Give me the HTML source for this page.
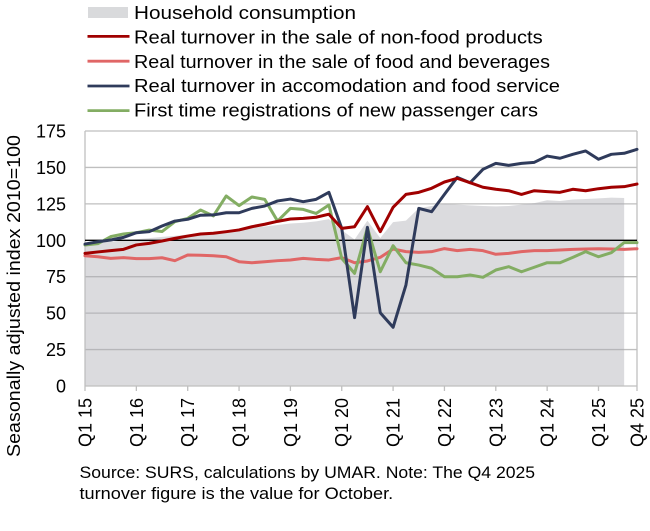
<!DOCTYPE html>
<html>
<head>
<meta charset="utf-8">
<style>
  html, body { margin: 0; padding: 0; background: #ffffff; }
  svg { display: block; }
  text { font-family: "Liberation Sans", Arial, sans-serif; fill: #000; }
</style>
</head>
<body>
<svg width="650" height="531" viewBox="0 0 650 531" xmlns="http://www.w3.org/2000/svg">
  <!-- Legend -->
  <rect x="88" y="7" width="40" height="11" fill="#d9dadc"/>
  <line x1="87.5" y1="36.4" x2="129.5" y2="36.4" stroke="#a00000" stroke-width="2.8"/>
  <line x1="87.5" y1="61.2" x2="129.5" y2="61.2" stroke="#e06666" stroke-width="2.8"/>
  <line x1="87.5" y1="86" x2="129.5" y2="86" stroke="#2f3b5b" stroke-width="2.8"/>
  <line x1="87.5" y1="110.6" x2="129.5" y2="110.6" stroke="#83ad63" stroke-width="2.8"/>
  <g font-size="18">
    <text x="134" y="19.2" textLength="222" lengthAdjust="spacingAndGlyphs">Household consumption</text>
    <text x="134" y="43.5" textLength="408.7" lengthAdjust="spacingAndGlyphs">Real turnover in the sale of non-food products</text>
    <text x="134" y="67.9" textLength="416" lengthAdjust="spacingAndGlyphs">Real turnover in the sale of food and beverages</text>
    <text x="134" y="92.2" textLength="426" lengthAdjust="spacingAndGlyphs">Real turnover in accomodation and food service</text>
    <text x="134" y="116.6" textLength="404" lengthAdjust="spacingAndGlyphs">First time registrations of new passenger cars</text>
  </g>

  <!-- Gridlines -->
  <g stroke="#bfbfbf" stroke-width="1.3">
    <line x1="85" y1="349.57" x2="637" y2="349.57"/>
    <line x1="85" y1="313.14" x2="637" y2="313.14"/>
    <line x1="85" y1="276.71" x2="637" y2="276.71"/>
    <line x1="85" y1="203.86" x2="637" y2="203.86"/>
    <line x1="85" y1="167.43" x2="637" y2="167.43"/>
    <line x1="85" y1="131" x2="637" y2="131"/>
  </g>

  <!-- Household consumption area -->
  <g transform="translate(85,386) scale(12.8372,-1.45714)">
    <polygon fill="#a9aab0" fill-opacity="0.42" points="0,0 0,98 1,98.5 2,99 3,100 4,100.7 5,101.5 6,102.3 7,103 8,104 9,105 10,105.8 11,106.6 12,107.5 13,108.5 14,109.5 15,110.5 16,111.5 17,112 18,113 19,114.5 20,107 21,100.5 22,113.5 23,101.5 24,112.5 25,113.5 26,122 27,123.5 28,125 29,124.5 30,124 31,123.5 32,123.3 33,123.5 34,124.5 35,125.5 36,127.5 37,127 38,128 39,128.3 40,128.8 41,129.3 42,129 42,0"/>
  </g>

  <g stroke="#bfbfbf" stroke-width="1.3">
    <line x1="85" y1="131" x2="85" y2="386"/>
    <line x1="637" y1="131" x2="637" y2="391"/>
    <line x1="85" y1="386" x2="637" y2="386"/>
    <!-- ticks -->
    <line x1="85" y1="386" x2="85" y2="391"/>
    <line x1="136.35" y1="386" x2="136.35" y2="391"/>
    <line x1="187.7" y1="386" x2="187.7" y2="391"/>
    <line x1="239.05" y1="386" x2="239.05" y2="391"/>
    <line x1="290.4" y1="386" x2="290.4" y2="391"/>
    <line x1="341.74" y1="386" x2="341.74" y2="391"/>
    <line x1="393.09" y1="386" x2="393.09" y2="391"/>
    <line x1="444.44" y1="386" x2="444.44" y2="391"/>
    <line x1="495.79" y1="386" x2="495.79" y2="391"/>
    <line x1="547.14" y1="386" x2="547.14" y2="391"/>
    <line x1="598.49" y1="386" x2="598.49" y2="391"/>
  </g>
  <line x1="85" y1="240.29" x2="637" y2="240.29" stroke="#000" stroke-width="1.3"/>

  <!-- Series -->
  <g transform="translate(85,386) scale(12.8372,-1.45714)" fill="none" stroke-width="3" stroke-linejoin="round" stroke-linecap="round">
    <polyline vector-effect="non-scaling-stroke" stroke="#e06666" points="0,89.4 1,88.7 2,87.6 3,88.1 4,87.4 5,87.4 6,88 7,86 8,89.9 9,89.7 10,89.4 11,88.7 12,85.3 13,84.6 14,85.3 15,86 16,86.5 17,87.6 18,86.9 19,86.5 20,88.1 21,84.6 22,85.8 23,88.3 24,94 25,92.2 26,91.7 27,92.2 28,94.3 29,92.9 30,93.8 31,92.9 32,90.4 33,91 34,92.2 35,92.9 36,92.9 37,93.3 38,93.8 39,94 40,94.2 41,94 42,93.8 43,94.2"/>
    <polyline vector-effect="non-scaling-stroke" stroke="#83ad63" points="0,96.8 1,97.7 2,102.5 3,104.3 4,105.2 5,107 6,106 7,112.8 8,115 9,120.8 10,116.7 11,130.4 12,123.8 13,129.7 14,128.1 15,113.2 16,121.9 17,121.2 18,118.4 19,124.2 20,87.6 21,77.3 22,108.5 23,78.4 24,96.3 25,84.6 26,83 27,80.8 28,75 29,75 30,76.2 31,74.6 32,79.6 33,81.9 34,78.4 35,81.5 36,84.6 37,84.6 38,88.3 39,92.2 40,88.7 41,91.5 42,98.4 43,98.4"/>
    <polyline vector-effect="non-scaling-stroke" stroke="#2f3b5b" points="0,97.4 1,99 2,100.2 3,102 4,105.2 5,105.9 6,109.8 7,113.2 8,114.4 9,117.2 10,117.4 11,118.9 12,118.9 13,121.9 14,123.5 15,127 16,128.3 17,126.5 18,128.1 19,132.9 20,108.2 21,46.9 22,108.9 23,50.3 24,40.3 25,69.3 26,121.9 27,119.6 28,131.5 29,143.2 30,139.5 31,148.7 32,152.8 33,151.4 34,152.8 35,153.5 36,157.8 37,156.3 38,159 39,161.3 40,155.6 41,159 42,159.7 43,162.4"/>
    <polyline vector-effect="non-scaling-stroke" stroke="#a00000" points="0,91 1,92 2,92.9 3,93.8 4,96.8 5,97.9 6,99.5 7,101.3 8,102.9 9,104.3 10,104.8 11,105.9 12,107.1 13,109.3 14,111 15,113 16,114.6 17,115 18,115.8 19,117.9 20,108.2 21,109.3 22,123.1 23,105.9 24,122.6 25,131.5 26,132.9 27,135.7 28,140 29,142.5 30,139.5 31,136.4 32,135 33,134 34,131.5 35,134 36,133.4 37,132.9 38,135 39,134 40,135.4 41,136.4 42,136.8 43,138.6"/>
  </g>

  <!-- Y tick labels -->
  <g font-size="18" text-anchor="end">
    <text x="66" y="392.5">0</text>
    <text x="66" y="356.1">25</text>
    <text x="66" y="319.6">50</text>
    <text x="66" y="283.2">75</text>
    <text x="66" y="246.8">100</text>
    <text x="66" y="210.4">125</text>
    <text x="66" y="173.9">150</text>
    <text x="66" y="137.5">175</text>
  </g>

  <!-- Y axis title -->
  <text font-size="18" text-anchor="middle" textLength="322" lengthAdjust="spacingAndGlyphs" transform="translate(20,296) rotate(-90)">Seasonally adjusted index 2010=100</text>

  <!-- X labels -->
  <g font-size="18" text-anchor="end">
    <text transform="translate(91.5,398) rotate(-90)">Q1 15</text>
    <text transform="translate(142.85,398) rotate(-90)">Q1 16</text>
    <text transform="translate(194.2,398) rotate(-90)">Q1 17</text>
    <text transform="translate(245.55,398) rotate(-90)">Q1 18</text>
    <text transform="translate(296.9,398) rotate(-90)">Q1 19</text>
    <text transform="translate(348.24,398) rotate(-90)">Q1 20</text>
    <text transform="translate(399.59,398) rotate(-90)">Q1 21</text>
    <text transform="translate(450.94,398) rotate(-90)">Q1 22</text>
    <text transform="translate(502.29,398) rotate(-90)">Q1 23</text>
    <text transform="translate(553.64,398) rotate(-90)">Q1 24</text>
    <text transform="translate(604.99,398) rotate(-90)">Q1 25</text>
    <text transform="translate(643.5,398) rotate(-90)">Q4 25</text>
  </g>

  <!-- Caption -->
  <g font-size="17">
    <text x="79.5" y="478" textLength="455.6" lengthAdjust="spacingAndGlyphs">Source: SURS, calculations by UMAR. Note: The Q4 2025</text>
    <text x="79.5" y="499" textLength="313.7" lengthAdjust="spacingAndGlyphs">turnover figure is the value for October.</text>
  </g>
</svg>
</body>
</html>
